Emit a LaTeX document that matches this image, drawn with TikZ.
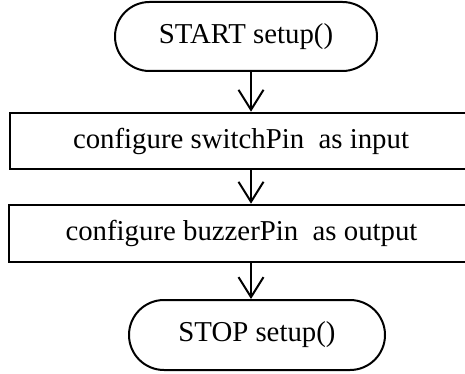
\documentclass[tikz,border=0pt]{standalone}
\usepackage{fontspec}
\setmainfont{Liberation Serif}
\usetikzlibrary{arrows.meta,shapes.misc}

\begin{document}
\begin{tikzpicture}[x=0.5pt,y=-0.5pt,
  terminal/.style={draw,rounded rectangle,line width=1pt,inner sep=0pt,
    font=\fontsize{14.4pt}{17pt}\selectfont},
  procbox/.style={draw,rectangle,line width=1.3pt,inner sep=0pt,
    font=\fontsize{14.4pt}{17pt}\selectfont},
  flowarrow/.style={-{Straight Barb[length=10pt,width=12.5pt]},line width=1pt}]
\clip (0,0) rectangle (465,374);
\coordinate (axis) at (251,0);
\node [terminal,minimum width=131pt,minimum height=34.5pt] (start) at (246,36.5) {START setup()};
\node [procbox,minimum width=231pt,minimum height=28pt] (box1) at (241,141) {configure switchPin\ \ as input};
\node [procbox,minimum width=232.5pt,minimum height=28.5pt] (box2) at (241.5,233.5) {configure buzzerPin\ \ as output};
\node [terminal,minimum width=128pt,minimum height=35pt] (stop) at (257,335) {STOP setup()};
\draw [flowarrow] (start.south -| axis) -- (box1.north -| axis);
\draw [flowarrow] (box1.south -| axis) -- (box2.north -| axis);
\draw [flowarrow] (box2.south -| axis) -- (stop.north -| axis);
\end{tikzpicture}
\end{document}
